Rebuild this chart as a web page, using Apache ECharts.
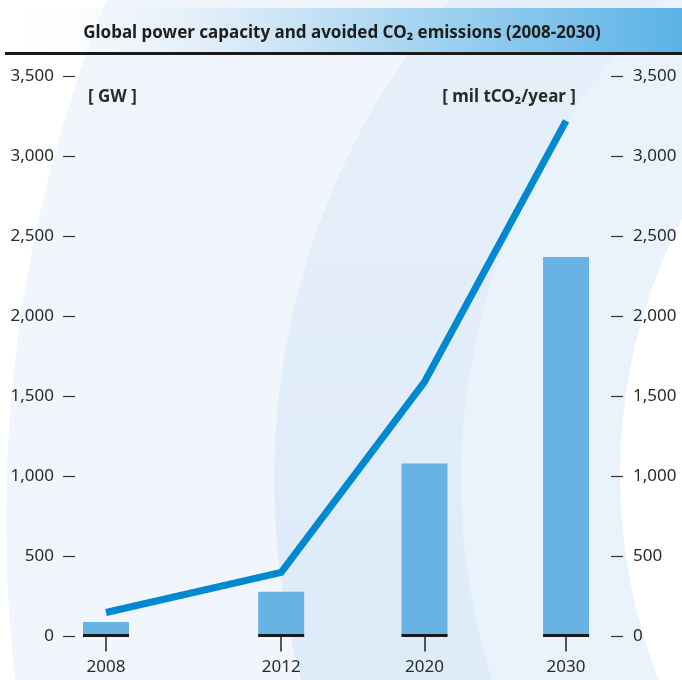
<!DOCTYPE html>
<html>
<head>
<meta charset="utf-8">
<script src="https://cdn.jsdelivr.net/npm/echarts@6/dist/echarts.min.js"></script>
<style>
  html, body { margin: 0; padding: 0; background: #fff; }
  #chart { width: 682px; height: 680px; }
</style>
</head>
<body>
<div id="chart"></div>
<script>
// 数据
const years = ["2008", "2012", "2020", "2030"];
const capacityGW = [90, 280, 1080, 2370];        // bars, [GW]
const avoidedCO2 = [150, 400, 1590, 3220];       // line, [mil tCO2/year]
const yTicks = [0, 500, 1000, 1500, 2000, 2500, 3000, 3500];
// uneven spacing of the years along the x axis (in slots)
const xSlots = [0, 4.95, 9, 13];

const fontFamily = "'Noto Sans', 'Open Sans', sans-serif";
const textColor = "#2a2a2a";
const barWidth = 46;

const chart = echarts.init(document.getElementById("chart"));

const fmt = (v) => v.toLocaleString("en-US");

const yAxisBase = (pos, margin) => ({
  type: "value", position: pos,
  min: yTicks[0], max: yTicks[yTicks.length - 1], interval: yTicks[1] - yTicks[0],
  axisLine: { show: false, onZero: false },
  splitLine: { show: false },
  axisTick: { show: true, length: 12, lineStyle: { color: "#333", width: 1.2 } },
  axisLabel: { formatter: fmt, color: textColor, fontSize: 17, margin: margin, fontFamily: fontFamily }
});

const option = {
  backgroundColor: "#fff",
  animation: false,
  textStyle: { fontFamily: fontFamily },
  graphic: [
    // 背景弧形
    { type: "circle", z: -10, shape: { cx: 1403, cy: 520, r: 1397 }, style: { fill: "#f1f6fc" }, silent: true },
    {
      type: "circle", z: -9, shape: { cx: 1020, cy: 480, r: 746 },
      style: {
        fill: new echarts.graphic.LinearGradient(0, 0, 0, 1, [
          { offset: 0, color: "#eaf2fb" },
          { offset: 0.6, color: "#deebf8" },
          { offset: 1, color: "#dbe9f7" }
        ])
      },
      silent: true
    },
    { type: "circle", z: -8, shape: { cx: 1123, cy: 480, r: 662 }, style: { fill: "#eaf3fb" }, silent: true },
    { type: "circle", z: -7, shape: { cx: 1181, cy: 475, r: 561 }, style: { fill: "#ffffff" }, silent: true },
    // 标题栏
    {
      type: "rect", z: 5, shape: { x: 0, y: 8, width: 682, height: 45 },
      style: {
        fill: new echarts.graphic.LinearGradient(0, 0, 1, 0, [
          { offset: 0, color: "rgba(255,255,255,0)" },
          { offset: 0.35, color: "#d9eaf8" },
          { offset: 1, color: "#5ab3e6" }
        ])
      },
      silent: true
    },
    { type: "rect", z: 6, shape: { x: 5, y: 52, width: 677, height: 3 }, style: { fill: "#1a1a1a" }, silent: true },
    {
      type: "text", z: 7, x: 342, y: 33,
      style: {
        text: "Global power capacity and avoided CO₂ emissions (2008-2030)",
        fontSize: 17, fontWeight: "bold", fill: "#1e1e1e", fontFamily: fontFamily,
        align: "center", verticalAlign: "middle"
      }
    },
    {
      type: "text", z: 7, x: 88, y: 97,
      style: { text: "[ GW ]", fontSize: 17, fontWeight: "bold", fill: textColor, fontFamily: fontFamily, verticalAlign: "middle" }
    },
    {
      type: "text", z: 7, x: 576, y: 97,
      style: { text: "[ mil tCO₂/year ]", fontSize: 17, fontWeight: "bold", fill: textColor, fontFamily: fontFamily, align: "right", verticalAlign: "middle" }
    }
  ],
  grid: { left: 75, right: 71, top: 76, bottom: 43.5, containLabel: false },
  xAxis: {
    type: "value",
    min: -0.876,
    max: 14.27,
    axisLine: { show: false },
    splitLine: { show: false },
    axisTick: {
      show: true, length: 15, customValues: xSlots,
      lineStyle: { color: "#222", width: 1.5 }
    },
    axisLabel: {
      customValues: xSlots,
      formatter: (v) => years[xSlots.indexOf(v)] || "",
      color: textColor, fontSize: 17, margin: 22, fontFamily: fontFamily
    }
  },
  yAxis: [yAxisBase("left", 21), yAxisBase("right", 22)],
  series: [
    {
      name: "Capacity",
      type: "bar",
      yAxisIndex: 0,
      barWidth: barWidth,
      itemStyle: { color: "#66b3e4" },
      data: capacityGW.map((v, i) => [xSlots[i], v]),
      z: 2
    },
    {
      // 柱底黑线
      name: "base",
      type: "custom",
      yAxisIndex: 0,
      z: 3,
      data: capacityGW.map((v, i) => [xSlots[i], 0]),
      renderItem: (params, api) => {
        const p = api.coord([api.value(0), 0]);
        return {
          type: "line",
          shape: { x1: p[0] - barWidth / 2, y1: p[1] - 1, x2: p[0] + barWidth / 2, y2: p[1] - 1 },
          style: { stroke: "#1a1a1a", lineWidth: 3 }
        };
      }
    },
    {
      name: "Avoided CO2",
      type: "line",
      yAxisIndex: 1,
      showSymbol: false,
      symbol: "none",
      lineStyle: { color: "#0088d0", width: 7, cap: "butt", join: "miter" },
      data: avoidedCO2.map((v, i) => [xSlots[i], v]),
      z: 4
    }
  ]
};

chart.setOption(option);
</script>
</body>
</html>
